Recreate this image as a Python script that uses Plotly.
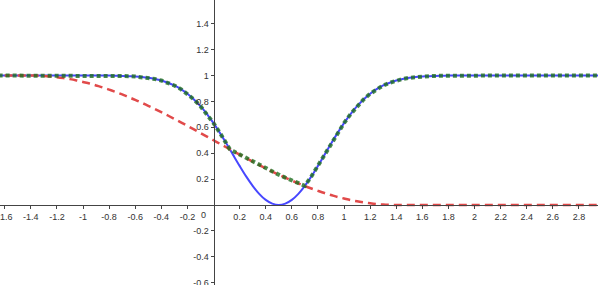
import plotly.graph_objects as go

# Sample positions (x)
x_vals = [-1.7, -1.6, -1.5, -1.4, -1.35, -1.3, -1.25, -1.2, -1.15, -1.1, -1.05,
          -1.0, -0.95, -0.9, -0.85, -0.8, -0.75, -0.7, -0.65, -0.6, -0.55, -0.5,
          -0.45, -0.4, -0.35, -0.3, -0.25, -0.2, -0.15, -0.1, -0.05, 0.0, 0.05,
          0.1, 0.15, 0.2, 0.25, 0.3, 0.35, 0.4, 0.45, 0.5, 0.55, 0.6, 0.65, 0.7,
          0.75, 0.8, 0.85, 0.9, 0.95, 1.0, 1.05, 1.1, 1.15, 1.2, 1.25, 1.3, 1.35,
          1.4, 1.45, 1.5, 1.55, 1.6, 1.65, 1.7, 1.75, 1.8, 1.85, 1.9, 1.95, 2.0,
          2.1, 2.2, 2.3, 2.4, 2.5, 2.6, 2.7, 2.8, 2.9, 3.0]

# Blue solid curve (dips to 0 at x = 0.5)
blue_vals = [1.0, 1.0, 1.0, 1.0, 1.0, 1.0, 1.0, 1.0, 1.0, 1.0, 1.0,
             1.0, 1.0, 1.0, 0.999, 0.999, 0.998, 0.997, 0.995, 0.992, 0.988, 0.982,
             0.973, 0.961, 0.944, 0.923, 0.895, 0.859, 0.815, 0.763, 0.702, 0.632, 0.555,
             0.473, 0.387, 0.302, 0.221, 0.148, 0.086, 0.039, 0.010, 0.0, 0.010, 0.039, 0.086, 0.148,
             0.221, 0.302, 0.387, 0.473, 0.555, 0.632, 0.702, 0.763, 0.815, 0.859, 0.895, 0.923, 0.944,
             0.961, 0.973, 0.982, 0.988, 0.992, 0.995, 0.997, 0.998, 0.999, 0.999, 1.0, 1.0, 1.0,
             1.0, 1.0, 1.0, 1.0, 1.0, 1.0, 1.0, 1.0, 1.0, 1.0]

# Red dashed curve (smooth step from 1 down to 0)
red_vals = [1.0, 1.0, 1.0, 1.0, 0.999, 0.997, 0.993, 0.987, 0.980, 0.972, 0.962,
            0.950, 0.938, 0.923, 0.908, 0.891, 0.873, 0.854, 0.833, 0.812, 0.789, 0.766,
            0.742, 0.717, 0.691, 0.665, 0.638, 0.611, 0.584, 0.556, 0.528, 0.500, 0.472,
            0.444, 0.416, 0.389, 0.362, 0.335, 0.309, 0.283, 0.258, 0.234, 0.211, 0.188, 0.167, 0.146,
            0.127, 0.109, 0.092, 0.077, 0.062, 0.050, 0.038, 0.028, 0.020, 0.013, 0.007, 0.003, 0.001,
            0.0, 0.0, 0.0, 0.0, 0.0, 0.0, 0.0, 0.0, 0.0, 0.0, 0.0, 0.0, 0.0,
            0.0, 0.0, 0.0, 0.0, 0.0, 0.0, 0.0, 0.0, 0.0, 0.0]

# Green dotted curve (upper envelope of the two)
green_x = [-1.7, -1.6, -1.5, -1.4, -1.35, -1.3, -1.25, -1.2, -1.15, -1.1, -1.05,
           -1.0, -0.95, -0.9, -0.85, -0.8, -0.75, -0.7, -0.65, -0.6, -0.55, -0.5,
           -0.45, -0.4, -0.35, -0.3, -0.25, -0.2, -0.15, -0.1, -0.05, 0.0, 0.05,
           0.1, 0.125, 0.15, 0.2, 0.25, 0.3, 0.35, 0.4, 0.45, 0.5, 0.55, 0.6, 0.65, 0.7,
           0.75, 0.8, 0.85, 0.9, 0.95, 1.0, 1.05, 1.1, 1.15, 1.2, 1.25, 1.3, 1.35,
           1.4, 1.45, 1.5, 1.55, 1.6, 1.65, 1.7, 1.75, 1.8, 1.85, 1.9, 1.95, 2.0,
           2.1, 2.2, 2.3, 2.4, 2.5, 2.6, 2.7, 2.8, 2.9, 3.0]
green_vals = [1.0, 1.0, 1.0, 1.0, 1.0, 1.0, 1.0, 1.0, 1.0, 1.0, 1.0,
              1.0, 1.0, 1.0, 0.999, 0.999, 0.998, 0.997, 0.995, 0.992, 0.988, 0.982,
              0.973, 0.961, 0.944, 0.923, 0.895, 0.859, 0.815, 0.763, 0.702, 0.632, 0.555,
              0.473, 0.430, 0.416, 0.389, 0.362, 0.335, 0.309, 0.283, 0.258, 0.234, 0.211, 0.188, 0.167, 0.148,
              0.221, 0.302, 0.387, 0.473, 0.555, 0.632, 0.702, 0.763, 0.815, 0.859, 0.895, 0.923, 0.944,
              0.961, 0.973, 0.982, 0.988, 0.992, 0.995, 0.997, 0.998, 0.999, 0.999, 1.0, 1.0, 1.0,
              1.0, 1.0, 1.0, 1.0, 1.0, 1.0, 1.0, 1.0, 1.0, 1.0]

x_ticks = [-1.6, -1.4, -1.2, -1, -0.8, -0.6, -0.4, -0.2, 0.2, 0.4, 0.6, 0.8, 1,
           1.2, 1.4, 1.6, 1.8, 2, 2.2, 2.4, 2.6, 2.8]
x_tick_text = ["-1.6", "-1.4", "-1.2", "-1", "-0.8", "-0.6", "-0.4", "-0.2", "0.2", "0.4",
               "0.6", "0.8", "1", "1.2", "1.4", "1.6", "1.8", "2", "2.2", "2.4", "2.6", "2.8"]
y_ticks = [-0.6, -0.4, -0.2, 0.2, 0.4, 0.6, 0.8, 1, 1.2, 1.4, 1.6]
y_tick_text = ["-0.6", "-0.4", "-0.2", "0.2", "0.4", "0.6", "0.8", "1", "1.2", "1.4", "1.6"]

x_range = [-1.636, 2.946]
y_range = [-0.618, 1.583]

fig = go.Figure()
fig.add_trace(go.Scatter(x=x_vals, y=blue_vals, mode="lines",
                         line=dict(color="#4747ff", width=2, shape="spline")))
fig.add_trace(go.Scatter(x=x_vals, y=red_vals, mode="lines",
                         line=dict(color="#e14a4a", width=2.5, dash="8px,5px", shape="spline")))
fig.add_trace(go.Scatter(x=green_x, y=green_vals, mode="lines",
                         line=dict(color="rgba(30,110,30,0.8)", width=4, dash="4px,3px")))

fig.add_annotation(x=0, y=0, text="0", showarrow=False, xanchor="right", yanchor="top",
                   xshift=-6, yshift=-3, font=dict(size=9, color="#333"))

xpos = (0 - y_range[0]) / (y_range[1] - y_range[0])
ypos = (0 - x_range[0]) / (x_range[1] - x_range[0])

fig.update_layout(
    width=598, height=285,
    margin=dict(l=0, r=0, t=0, b=0),
    paper_bgcolor="white", plot_bgcolor="white",
    showlegend=False,
    font=dict(family="Liberation Sans, Arial, sans-serif", size=9, color="#333"),
    xaxis=dict(range=x_range, showgrid=False, zeroline=False, showline=True,
               linecolor="#444", linewidth=1, anchor="free", position=xpos,
               ticks="outside", ticklen=3, tickcolor="#444", ticklabeloverflow="allow",
               tickvals=x_ticks, ticktext=x_tick_text, automargin=False),
    yaxis=dict(range=y_range, showgrid=False, zeroline=False, showline=True,
               linecolor="#444", linewidth=1, anchor="free", position=ypos,
               ticks="outside", ticklen=3, tickcolor="#444", ticklabeloverflow="allow",
               tickvals=y_ticks, ticktext=y_tick_text, automargin=False),
)

fig.write_html("out.html", config={"displayModeBar": False},
               post_script="document.body.style.margin='0';document.body.style.padding='0';")
